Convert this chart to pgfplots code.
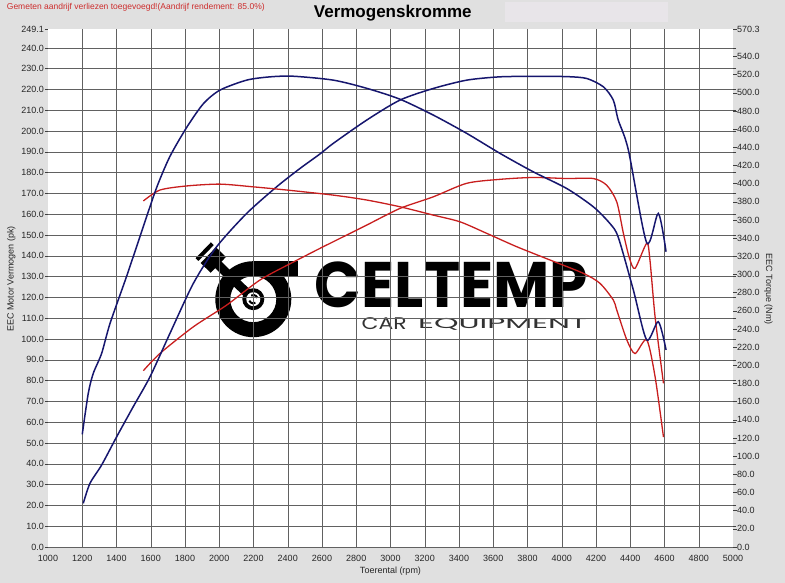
\documentclass[border=0pt]{standalone}
\usepackage{fontspec}
\setmainfont{Liberation Sans}
\newfontfamily\logofont{Poppins}
\usepackage{pgfplots}
\pgfplotsset{compat=1.18}
\usepackage{pgfplotstable}

\definecolor{bgc}{RGB}{224,224,224}
\definecolor{boxc}{RGB}{232,229,233}
\definecolor{subred}{RGB}{205,45,45}
\definecolor{curveblue}{RGB}{22,22,110}
\definecolor{curvered}{RGB}{200,30,30}
\definecolor{logogray}{RGB}{50,50,50}

% tuned power (pk)
\pgfplotstableread{
rpm val
1206 21.0
1245 30.6
1313 39.4
1401 53.0
1498 67.5
1596 81.9
1712 102.7
1849 126.8
1985 144.4
2160 160.4
2335 173.2
2471 182.0
2588 189.0
2666 194.1
2861 205.3
3055 214.9
3250 220.5
3445 224.5
3639 226.1
3834 226.3
4029 226.2
4146 225.3
4243 221.3
4301 214.9
4330 205.3
4389 190.9
4496 146.3
4564 160.4
4609 142.0
}\tunedpower

% stock power (pk)
\pgfplotstableread{
rpm val
1557 84.8
1654 93.1
1849 105.9
2043 116.3
2238 128.4
2432 137.0
2588 143.6
2666 146.8
2861 154.8
3055 162.8
3250 168.4
3445 174.9
3639 176.8
3834 177.7
4029 177.2
4184 177.2
4262 174.0
4321 166.0
4360 150.8
4395 139.0
4428 134.0
4496 146.0
4515 138.0
4545 110.7
4594 78.7
}\stockpower

% tuned torque (Nm)
\pgfplotstableread{
rpm val
1200 124
1235 169
1264 191
1313 213
1362 246
1459 298
1557 353
1635 396
1712 430
1810 462
1907 488
2004 503
2160 514
2296 517.6
2432 518.3
2666 514
2861 505
3055 493
3250 475.5
3445 455.4
3639 433.4
3834 413
4029 394.7
4184 374.6
4282 356
4330 341
4418 283
4496 228
4564 248
4609 217
}\tunedtorque

% stock torque (Nm)
\pgfplotstableread{
rpm val
1557 381
1654 393
1810 397.5
2004 399.5
2199 396.5
2394 393
2666 387.4
2861 382
3055 374.6
3250 365.4
3406 358
3562 345.3
3737 330.6
3931 316
4126 301.3
4223 290.3
4301 272
4321 261
4380 228
4428 213
4496 228
4545 187.5
4594 121
}\stocktorque

\begin{document}
\begin{tikzpicture}
% background
\fill[bgc] (-48pt,-36pt) rectangle (737pt,547pt);
\fill[boxc] (457pt,525pt) rectangle (620pt,545pt);
\fill[white] (0pt,0pt) rectangle (685pt,518pt);

% titles
\node[anchor=base, inner sep=0pt] at (344.8pt,529.2pt) {\fontsize{17}{17}\selectfont\bfseries Vermogenskromme};
\node[anchor=base west, inner sep=0pt, text=subred] at (-41.3pt,537.5pt) {\fontsize{8.5}{9}\selectfont Gemeten aandrijf verliezen toegevoegd!(Aandrijf rendement: 85.0\%)};

% watermark logo
\fill[black, even odd rule] (205.3pt,247.8pt) circle (38pt) (205.3pt,247.8pt) circle (23pt);
\fill[black] (205.3pt,270.8pt) rectangle (250.3pt,285.8pt);
\draw[black, line width=9pt] (165.3pt,287pt) -- (205.3pt,247.8pt);
\fill[black] (205.3pt,247.8pt) circle (11pt);
\fill[white] (205.3pt,247.8pt) circle (7pt);
\draw[black, line width=2pt] (205.3pt,247.8pt) ++(20:4.2pt) arc[start angle=20, end angle=120, radius=4.2pt];
\draw[black, line width=2pt] (205.3pt,247.8pt) ++(200:4.2pt) arc[start angle=200, end angle=300, radius=4.2pt];
\begin{scope}[shift={(165.3pt,287pt)}, rotate=-44]
  \fill[black] (-7pt,-11pt) rectangle (7pt,11pt);
  \fill[black] (-14pt,-11pt) rectangle (-10pt,11pt);
\end{scope}
\node[inner sep=0pt] at (403.5pt,262pt) {\resizebox*{273pt}{46pt}{\logofont\bfseries CELTEMP}};
\node[inner sep=0pt, text=logogray] at (336.2pt,223pt) {\resizebox*{45pt}{12pt}{\logofont CAR}};
\node[inner sep=0pt, text=logogray] at (454.5pt,223pt) {\resizebox*{169pt}{12pt}{\logofont EQUIPMENT}};

\begin{axis}[
  at={(0pt,0pt)}, anchor=south west,
  width=685pt, height=518pt, scale only axis,
  xmin=1000, xmax=5000, ymin=0, ymax=249.1,
  xtick={1200,1400,...,4800}, extra x ticks={1000,5000},
  ytick={0,10,...,240}, extra y ticks={249.1},
  extra tick style={grid=none},
  grid=major, major grid style={draw=black!62, line width=0.45pt},
  axis line style={draw=none},
  tick align=outside, major tick length=3pt,
  xtick style={draw=none}, ytick style={draw=black!75, line width=0.5pt},
  ticklabel style={font=\fontsize{9}{10}\selectfont, text=black!85},
  /pgf/number format/assume math mode=true,
  xticklabel style={/pgf/number format/1000 sep={}, yshift=-2pt},
  yticklabel style={inner xsep=1pt, /pgf/number format/.cd, fixed, fixed zerofill, precision=1},
  xlabel={Toerental (rpm)}, ylabel={EEC Motor Vermogen (pk)},
  every axis x label/.style={at={(axis description cs:0.5,-0.0463)}, anchor=center},
  every axis y label/.style={at={(axis description cs:-0.0536,0.517)}, rotate=90, anchor=center},
  label style={font=\fontsize{9}{10}\selectfont, text=black!85},
]
\addplot[curvered, line width=1.3pt, smooth, tension=0.45] table[x=rpm, y=val] {\stockpower};
\addplot[curveblue, line width=1.5pt, smooth, tension=0.45] table[x=rpm, y=val] {\tunedpower};
\end{axis}

\begin{axis}[
  at={(0pt,0pt)}, anchor=south west,
  width=685pt, height=518pt, scale only axis,
  xmin=1000, xmax=5000, ymin=0, ymax=570.3,
  axis x line=none, axis y line*=right,
  axis line style={draw=none},
  ytick={0,20,...,540}, extra y ticks={570.3},
  yticklabel pos=right,
  tick align=outside, major tick length=3.5pt,
  ytick style={draw=black!75, line width=0.5pt},
  ticklabel style={font=\fontsize{9}{10}\selectfont, text=black!85},
  /pgf/number format/assume math mode=true,
  yticklabel style={inner xsep=0.5pt, /pgf/number format/.cd, fixed, fixed zerofill, precision=1},
  ylabel={EEC Torque (Nm)},
  every axis y label/.style={at={(axis description cs:1.0518,0.498)}, rotate=-90, anchor=center},
  label style={font=\fontsize{9}{10}\selectfont, text=black!85},
]
\addplot[curvered, line width=1.3pt, smooth, tension=0.45] table[x=rpm, y=val] {\stocktorque};
\addplot[curveblue, line width=1.5pt, smooth, tension=0.45] table[x=rpm, y=val] {\tunedtorque};
\end{axis}

\pgfresetboundingbox
\path[use as bounding box] (-48pt,-36pt) rectangle (737pt,547pt);
\end{tikzpicture}
\end{document}
